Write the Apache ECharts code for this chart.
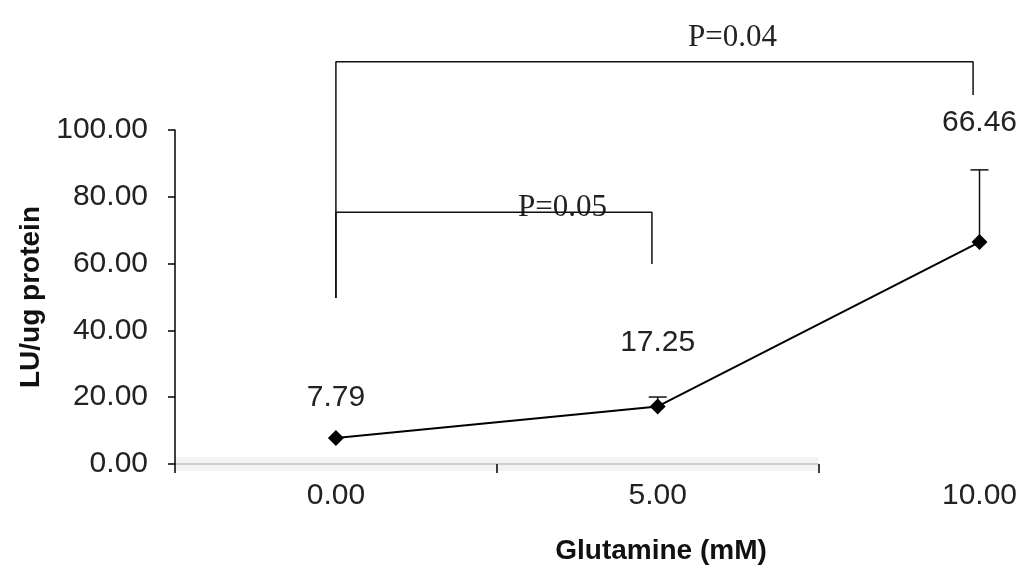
<!DOCTYPE html>
<html>
<head>
<meta charset="utf-8">
<script src="https://cdn.jsdelivr.net/npm/echarts@6/dist/echarts.min.js"></script>
<style>html,body{margin:0;padding:0;background:#fff}#c{width:1031px;height:584px}</style>
</head>
<body>
<div id="c"></div>
<script>
// ---- data ----
const glutamine = [0, 5, 10];            // mM
const lu = [7.79, 17.25, 66.46];         // LU/ug protein (mean)
const errUp = [0, 2.8, 21.6];            // upper error
const xTickLabels = [0, 5, 10];
const pTexts = ['P=0.05', 'P=0.04'];
// significance brackets (data coordinates)
const bracket05 = [[0, 49.7], [0, 75.4], [4.91, 75.4], [4.91, 59.9]];
const bracket04 = [[0, 49.7], [0, 120.4], [9.9, 120.4], [9.9, 110.5]];
const xAxisSpan = [[-2.5, 0], [7.5, 0]];

// ---- style helpers (not data) ----
const labelGap = [17, 41, 96];
const numFont = "'Liberation Sans', Arial, sans-serif";

const chart = echarts.init(document.getElementById('c'), null, {renderer: 'canvas'});

const pointData = glutamine.map((x, i) => ({
  value: [x, lu[i]],
  label: {distance: labelGap[i]}
}));

const option = {
  backgroundColor: '#fff',
  animation: false,
  grid: {left: 175, top: 130, right: 0, bottom: 120, containLabel: false},
  xAxis: {
    type: 'value', min: -2.5, max: 10.8, z: 10,
    axisLine: {show: false, onZero: false},
    splitLine: {show: false},
    axisTick: {show: true, customValues: [-2.5, 2.5, 7.5], length: 9, lineStyle: {color: '#000', width: 1.5}},
    axisLabel: {customValues: xTickLabels, formatter: v => v.toFixed(2), fontFamily: numFont, fontSize: 30, color: '#222', margin: 17},
    name: 'Glutamine (mM)', nameLocation: 'middle', nameGap: 73,
    nameTextStyle: {fontFamily: numFont, fontWeight: 'bold', fontSize: 28, color: '#111', padding: [0, 0, 0, 116]}
  },
  yAxis: {
    type: 'value', min: 0, max: 100, interval: 20, z: 10,
    axisLine: {show: true, onZero: false, lineStyle: {color: '#000', width: 1.5}},
    axisTick: {show: true, length: 7, lineStyle: {color: '#000', width: 1.5}},
    splitLine: {show: false},
    axisLabel: {formatter: v => v.toFixed(2), fontFamily: numFont, fontSize: 30, color: '#222', margin: 27},
    name: 'LU/ug protein', nameLocation: 'middle', nameGap: 130,
    nameTextStyle: {fontFamily: numFont, fontWeight: 'bold', fontSize: 28, color: '#111'}
  },
  series: [
    {
      type: 'line', data: xAxisSpan, clip: false, symbol: 'none', silent: true, z: 1,
      lineStyle: {color: '#f3f3f3', width: 14}
    },
    {
      type: 'line', data: xAxisSpan, clip: false, symbol: 'none', silent: true, z: 2,
      lineStyle: {color: '#c4c4c4', width: 1.5}
    },
    {
      type: 'line', data: bracket05, clip: false, symbol: 'none', silent: true, z: 3,
      lineStyle: {color: '#111', width: 1.5}
    },
    {
      type: 'line', data: bracket04, clip: false, symbol: 'none', silent: true, z: 3,
      lineStyle: {color: '#111', width: 1.5}
    },
    {
      type: 'custom', clip: false, z: 4,
      data: glutamine.map((x, i) => [x, lu[i], errUp[i]]),
      renderItem: function (params, api) {
        const x = api.value(0), m = api.value(1), e = api.value(2);
        if (!e) return null;
        const p0 = api.coord([x, m]);
        const p1 = api.coord([x, m + e]);
        const hw = 9;
        return {
          type: 'group',
          children: [
            {type: 'line', shape: {x1: p0[0], y1: p0[1], x2: p1[0], y2: p1[1]}, style: {stroke: '#111', lineWidth: 1.5}},
            {type: 'line', shape: {x1: p1[0] - hw, y1: p1[1], x2: p1[0] + hw, y2: p1[1]}, style: {stroke: '#111', lineWidth: 1.5}}
          ]
        };
      }
    },
    {
      type: 'line', data: pointData, clip: false, z: 5,
      symbol: 'diamond', symbolSize: 16,
      itemStyle: {color: '#000'},
      lineStyle: {color: '#000', width: 2},
      label: {
        show: true, position: 'top',
        formatter: p => p.value[1].toFixed(2),
        fontFamily: numFont, fontSize: 30, color: '#222'
      }
    }
  ],
  graphic: [
    {type: 'text', left: 518, top: 192, style: {text: pTexts[0], font: "31px 'Liberation Serif', 'Times New Roman', serif", fill: '#222', textAlign: 'center', textVerticalAlign: 'middle'}},
    {type: 'text', left: 688, top: 22, style: {text: pTexts[1], font: "31px 'Liberation Serif', 'Times New Roman', serif", fill: '#222', textAlign: 'center', textVerticalAlign: 'middle'}}
  ]
};
chart.setOption(option);
</script>
</body>
</html>
